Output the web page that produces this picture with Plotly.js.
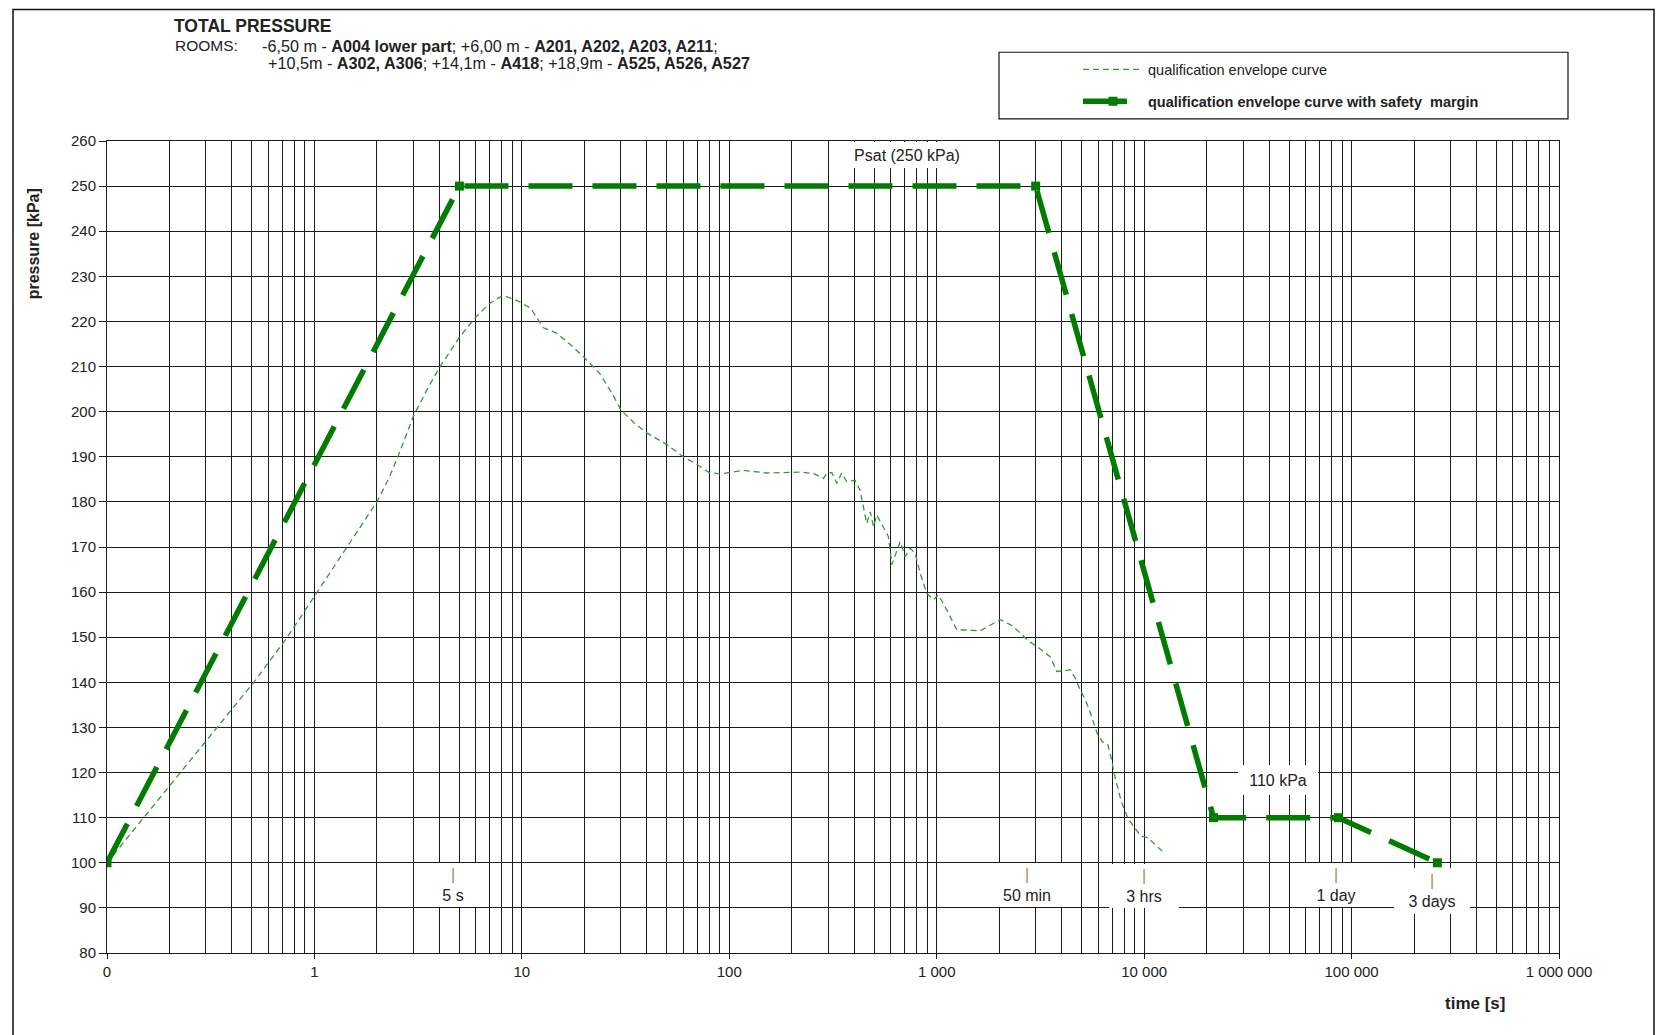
<!DOCTYPE html>
<html>
<head>
<meta charset="utf-8">
<script src="https://cdn.plot.ly/plotly-3.0.1.min.js"></script>
<style>html,body{margin:0;padding:0;background:#fff;}#chart{width:1657px;height:1035px;}</style>
</head>
<body>
<div id="chart"></div>
<script>
// ---- data ----
const envelopeTime = [0.1, 0.15, 0.225, 0.34, 0.51, 0.74, 1.03, 1.43, 2.0, 2.3, 2.6, 3.0, 3.5, 4.0, 5.0, 6.0, 7.0, 8.1, 9.5, 11, 12.7, 14.7, 17, 20, 23.7, 27.5, 30, 35, 40, 50, 60, 70, 80, 90, 101, 117, 152, 219, 255, 285, 295, 312, 330, 348, 368, 404, 427, 443, 460, 478, 496, 514, 553, 585, 608, 643, 667, 705, 745, 787, 832, 896, 964, 1019, 1119, 1250, 1397, 1620, 1745, 2023, 2260, 2484, 2730, 3047, 3521, 3793, 4164, 4400, 4659, 4917, 5212, 5517, 5944, 6293, 6662, 6917, 7181, 7734, 8329, 8970, 9660, 10400, 12200];
const envelopePressure = [100, 110, 120, 130, 140, 150, 160, 170, 180, 185.5, 191.5, 199.0, 205.0, 209.7, 216.5, 221, 224, 225.8, 224.6, 223, 218.6, 217.4, 215, 212, 208.5, 203.7, 200.4, 197.4, 195.3, 192.7, 190, 188.3, 186.5, 186.2, 186.5, 187.0, 186.4, 186.6, 186.3, 185.2, 186.3, 186.5, 184.1, 186.4, 184.5, 184.8, 182.6, 178.9, 175.2, 177.8, 174.5, 177.1, 174.5, 172.3, 166.1, 169.4, 171.2, 167.9, 169.7, 168.6, 164.2, 159.7, 158.3, 159.4, 156.0, 151.6, 151.6, 151.4, 152.2, 153.9, 152.8, 151.3, 149.4, 147.9, 145.7, 142.4, 142.6, 142.8, 140.9, 138.3, 136.1, 133.1, 128.6, 126.8, 126.4, 123.4, 119.7, 113.8, 110, 107.8, 105.9, 105.6, 102.6];
const marginTime = [0.1, 5, 3000, 21600, 86400, 259200];
const marginPressure = [100, 250, 250, 110, 110, 100];

const xTickValues = [0.1, 1, 10, 100, 1000, 10000, 100000, 1000000];
const xTickLabels = ['0', '1', '10', '100', '1 000', '10 000', '100 000', '1 000 000'];
const yTickValues = [80, 90, 100, 110, 120, 130, 140, 150, 160, 170, 180, 190, 200, 210, 220, 230, 240, 250, 260];
const minorMultipliers = [2, 3, 4, 5, 6, 7, 8, 9];
const decadeStarts = [0.1, 1, 10, 100, 1000, 10000, 100000];

const seriesNames = ['qualification envelope curve', '<b>qualification envelope curve with safety&nbsp; margin</b>'];
const timeMarks = ['5 s', '50 min', '3 hrs', '1 day', '3 days'];

// ---- layout helpers (pixel -> paper) ----
const W = 1657, H = 1035;
const L = 107, R = 1559, T = 140.6, B = 953.2;
const px = x => (x - L) / (R - L);
const py = y => (B - y) / (B - T);

const minorVals = [];
decadeStarts.forEach(d => minorMultipliers.forEach(m => minorVals.push(+(d * m).toPrecision(3))));

const FONT = '"Liberation Sans", Arial, sans-serif';
const TXT = '#222';
const GRID = '#1a1a1a';

const traces = [
  {
    x: envelopeTime, y: envelopePressure, type: 'scatter', mode: 'lines',
    name: seriesNames[0], legendgroup: 'a',
    line: {color: '#2e9e2e', width: 1.3, dash: '6px,4px'}
  },
  {
    x: marginTime, y: marginPressure, type: 'scatter', mode: 'lines+markers',
    name: seriesNames[1], legendgroup: 'b',
    line: {color: '#007d00', width: 5.5, dash: '44px,20px'},
    marker: {symbol: 'square', size: 9, color: '#007d00'}
  }
];

function labelBox(cx, cy, w, h, text, extra) {
  return Object.assign({
    xref: 'paper', yref: 'paper', x: px(cx), y: py(cy),
    xanchor: 'center', yanchor: 'middle', showarrow: false,
    text: text, width: w, height: h, bgcolor: '#ffffff', borderpad: 0, borderwidth: 0,
    font: {family: FONT, size: 16, color: TXT}, align: 'center', valign: 'middle'
  }, extra || {});
}
const bar = '<span style="color:#b88450">|</span>';

const annotations = [
  // subtitle lines
  {xref: 'paper', yref: 'paper', x: px(173), y: py(45.5), xanchor: 'left', yanchor: 'middle', showarrow: false,
   text: 'ROOMS:', font: {family: FONT, size: 15.5, color: TXT}},
  {xref: 'paper', yref: 'paper', x: px(260), y: py(45.5), xanchor: 'left', yanchor: 'middle', showarrow: false,
   text: '-6,50 m - <b>A004 lower part</b>; +6,00 m - <b>A201, A202, A203, A211</b>;', font: {family: FONT, size: 16.2, color: TXT}},
  {xref: 'paper', yref: 'paper', x: px(266), y: py(62.4), xanchor: 'left', yanchor: 'middle', showarrow: false,
   text: '+10,5m - <b>A302, A306</b>; +14,1m - <b>A418</b>; +18,9m - <b>A525, A526, A527</b>', font: {family: FONT, size: 16.2, color: TXT}},
  // axis titles
  {xref: 'paper', yref: 'paper', x: px(33), y: py(244), xanchor: 'center', yanchor: 'middle', showarrow: false,
   textangle: -90, text: '<b>pressure [kPa]</b>', font: {family: FONT, size: 16, color: TXT}},
  {xref: 'paper', yref: 'paper', x: px(1475), y: py(1004), xanchor: 'center', yanchor: 'middle', showarrow: false,
   text: '<b>time [s]</b>', font: {family: FONT, size: 17, color: TXT}},
  // in-plot labels
  labelBox(907, 155, 112, 26, 'Psat (250 kPa)'),
  labelBox(1278, 780, 80, 30, '110 kPa'),
  labelBox(452.5, 885, 50, 44, bar + '<br>' + timeMarks[0]),
  labelBox(1027, 885, 72, 44, bar + '<br>' + timeMarks[1]),
  labelBox(1144, 886, 70, 44, bar + '<br>' + timeMarks[2]),
  labelBox(1336, 885, 72, 44, bar + '<br>' + timeMarks[3]),
  labelBox(1432, 891, 76, 46, bar + '<br>' + timeMarks[4])
];

const shapes = [
  // outer frame
  {type: 'rect', xref: 'paper', yref: 'paper', x0: px(13), x1: px(1654), y0: py(1045), y1: py(9),
   line: {color: '#111', width: 1.5}, fillcolor: 'rgba(0,0,0,0)', layer: 'below'},
  // legend box
  {type: 'rect', xref: 'paper', yref: 'paper', x0: px(999), x1: px(1568), y0: py(118.4), y1: py(51.8),
   line: {color: '#111', width: 1.2}, fillcolor: 'rgba(0,0,0,0)'}
];

const layout = {
  width: W, height: H,
  margin: {l: L, r: W - R, t: T, b: H - B, pad: 0},
  paper_bgcolor: '#fff', plot_bgcolor: '#fff',
  font: {family: FONT, color: TXT},
  title: {text: '<b>TOTAL PRESSURE</b>', xref: 'container', yref: 'container',
          x: 174 / W, xanchor: 'left', y: 1 - 26 / H, yanchor: 'middle',
          font: {family: FONT, size: 17.5, color: TXT}},
  showlegend: true,
  legend: {x: px(1078), y: py(53), xanchor: 'left', yanchor: 'top',
           bgcolor: 'rgba(0,0,0,0)', borderwidth: 0, traceorder: 'grouped', tracegroupgap: 10,
           itemwidth: 60, font: {family: FONT, size: 14.5, color: TXT}},
  xaxis: {
    type: 'log', range: [-1, 6], tickmode: 'array', tickvals: xTickValues, ticktext: xTickLabels,
    ticks: 'outside', ticklen: 5, tickcolor: GRID, tickfont: {family: FONT, size: 15, color: TXT},
    showgrid: true, gridcolor: GRID, gridwidth: 1,
    minor: {tickvals: minorVals, showgrid: true, gridcolor: GRID, gridwidth: 1, ticks: ''},
    showline: true, linecolor: GRID, linewidth: 1, mirror: true, zeroline: false, fixedrange: true
  },
  yaxis: {
    range: [80, 260], tickmode: 'array', tickvals: yTickValues,
    ticks: 'outside', ticklen: 7, tickcolor: GRID, tickfont: {family: FONT, size: 15, color: TXT},
    showgrid: true, gridcolor: GRID, gridwidth: 1,
    showline: true, linecolor: GRID, linewidth: 1, mirror: true, zeroline: false, fixedrange: true
  },
  annotations: annotations,
  shapes: shapes
};

Plotly.newPlot('chart', traces, layout, {staticPlot: true, displayModeBar: false});
</script>
</body>
</html>
